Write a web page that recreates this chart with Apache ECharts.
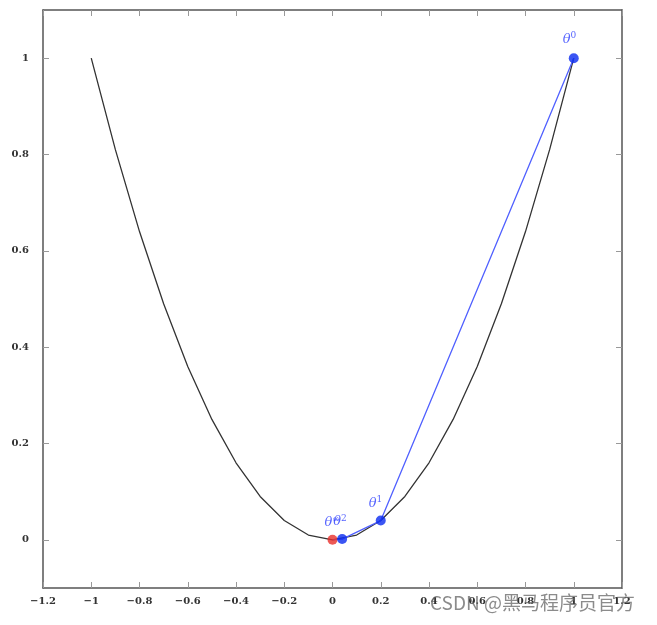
<!DOCTYPE html>
<html>
<head>
<meta charset="utf-8">
<script src="https://cdn.jsdelivr.net/npm/echarts@6/dist/echarts.min.js"></script>
<style>
  html, body { margin: 0; padding: 0; background: #fff; }
  #chart { width: 657px; height: 625px; }
</style>
</head>
<body>
<div id="chart"></div>
<script>
// parabola as sampled in the picture
const curveX = [-1, -0.9, -0.8, -0.7, -0.6, -0.5, -0.4, -0.3, -0.2, -0.1, 0, 0.1, 0.2, 0.3, 0.4, 0.5, 0.6, 0.7, 0.8, 0.9, 1];
const curveY = [1, 0.81, 0.64, 0.49, 0.36, 0.25, 0.16, 0.09, 0.04, 0.01, 0, 0.01, 0.04, 0.09, 0.16, 0.25, 0.36, 0.49, 0.64, 0.81, 1];
// iterates
const stepX = [1, 0.2, 0.04];
const stepY = [1, 0.04, 0.0016];
const stepNames = ['0', '1', '2'];
const limitX = 0;
const limitY = 0;
const yTicks = [0, 0.2, 0.4, 0.6, 0.8, 1];

const tickFont = {
    fontFamily: 'DejaVu Serif',
    fontWeight: 'bold',
    fontSize: 10,
    color: '#333'
};
const axisLineStyle = {color: '#555', width: 1.5};
const tickStyle = {show: true, inside: true, length: 6, lineStyle: {color: '#999'}};

function fmt(v) {
    let s = String(Math.round(v * 10) / 10);
    return s.replace('-', '\u2212');
}

let chart = echarts.init(document.getElementById('chart'));

let thetaRich = {
    t: {fontFamily: 'DejaVu Serif', fontStyle: 'italic', fontSize: 13, color: '#2a3cff'},
    s: {fontFamily: 'DejaVu Serif', fontSize: 9, color: '#2a3cff', verticalAlign: 'top', padding: [0, 0, 7, 0]}
};

let option = {
    animation: false,
    grid: {left: 43, right: 35, top: 10, bottom: 37},
    xAxis: [{
        type: 'value', min: -1.2, max: 1.2, interval: 0.2,
        axisLine: {show: true, onZero: false, lineStyle: axisLineStyle},
        axisTick: tickStyle,
        axisLabel: Object.assign({margin: 8, formatter: fmt, showMinLabel: true, showMaxLabel: true}, tickFont),
        splitLine: {show: false}
    }, {
        type: 'value', min: -1.2, max: 1.2, interval: 0.2, position: 'top',
        axisLine: {show: true, onZero: false, lineStyle: axisLineStyle},
        axisTick: tickStyle,
        axisLabel: {show: false},
        splitLine: {show: false}
    }],
    yAxis: [{
        type: 'value', min: -0.1, max: 1.1,
        axisLine: {show: true, onZero: false, lineStyle: axisLineStyle},
        axisTick: Object.assign({customValues: yTicks}, tickStyle),
        axisLabel: Object.assign({margin: 14, formatter: fmt, customValues: yTicks}, tickFont),
        splitLine: {show: false}
    }, {
        type: 'value', min: -0.1, max: 1.1, position: 'right',
        axisLine: {show: true, onZero: false, lineStyle: axisLineStyle},
        axisTick: Object.assign({customValues: yTicks}, tickStyle),
        axisLabel: {show: false},
        splitLine: {show: false}
    }],
    series: [{
        type: 'line',
        data: curveX.map((x, i) => [x, curveY[i]]),
        symbol: 'none',
        lineStyle: {color: '#333', width: 1.3},
        z: 2
    }, {
        type: 'line',
        data: stepX.map((x, i) => [x, stepY[i]]).concat([[limitX, limitY]]),
        symbol: 'none',
        lineStyle: {color: '#5060ff', width: 1.3},
        z: 3
    }, {
        type: 'scatter',
        data: stepX.map((x, i) => ({
            value: [x, stepY[i]],
            label: {
                show: true,
                position: i === 1 ? [-7, -20] : (i === 2 ? [-4, -20] : [-6, -22]),
                formatter: '{t|θ}{s|' + stepNames[i] + '}',
                rich: thetaRich
            }
        })),
        symbolSize: 10,
        itemStyle: {color: '#0a2af0'},
        z: 5
    }, {
        type: 'scatter',
        data: [{
            value: [limitX, limitY],
            label: {
                show: true,
                position: [-3, -20],
                formatter: '{t|θ}{s|∞}',
                rich: thetaRich
            }
        }],
        symbolSize: 10,
        itemStyle: {color: '#e8302a'},
        z: 4
    }],
    graphic: [{
        type: 'text',
        left: 430,
        top: 593,
        style: {
            text: 'CSDN @黑马程序员官方',
            fontFamily: 'Noto Sans CJK SC',
            fontSize: 19,
            fill: 'rgba(100,100,100,0.75)'
        },
        z: 10
    }]
};

chart.setOption(option);
</script>
</body>
</html>
